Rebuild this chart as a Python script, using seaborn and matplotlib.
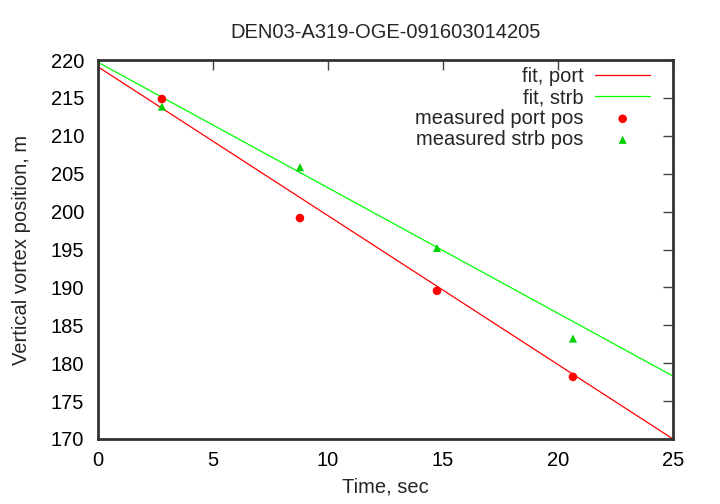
import matplotlib
matplotlib.use("Agg")
import matplotlib.pyplot as plt
import seaborn as sns
import pandas as pd

# Data
fit_time = [0.0, 25.0]
fit_port = [219.1, 170.0]
fit_strb = [219.7, 178.3]

meas_time = [2.78, 8.78, 14.74, 20.65]
meas_port = [214.85, 199.15, 189.55, 178.2]
meas_strb = [213.85, 205.85, 195.2, 183.25]

title = "DEN03-A319-OGE-091603014205"
xlabel = "Time, sec"
ylabel = "Vertical vortex position, m"
xticks = [0, 5, 10, 15, 20, 25]
yticks = [170, 175, 180, 185, 190, 195, 200, 205, 210, 215, 220]

sns.set_style("white")
plt.rcParams["font.family"] = ["Liberation Sans", "DejaVu Sans"]
FS = 14.5

fig = plt.figure(figsize=(7.2, 5.04), dpi=100)
ax = fig.add_axes([98 / 720, 1 - 439 / 504, (673 - 98) / 720, (439 - 60) / 504])

fit_df = pd.DataFrame({"t": fit_time, "port": fit_port, "strb": fit_strb})
meas_df = pd.DataFrame({"t": meas_time, "port": meas_port, "strb": meas_strb})

sns.lineplot(data=fit_df, x="t", y="port", ax=ax, color="#ff0000", lw=0.9, label="fit, port")
sns.lineplot(data=fit_df, x="t", y="strb", ax=ax, color="#00ff00", lw=0.9, label="fit, strb")
sns.scatterplot(data=meas_df, x="t", y="port", ax=ax, color="#ff0000", marker="o", s=38,
                edgecolor="none", label="measured port pos", zorder=3)
sns.scatterplot(data=meas_df, x="t", y="strb", ax=ax, color="#00d000", marker="^", s=34,
                edgecolor="none", label="measured strb pos", zorder=3)

ax.set_xlim(0, 25)
ax.set_ylim(170, 220)
ax.set_xticks(xticks)
ax.set_yticks(yticks)
ax.tick_params(direction="in", length=7, width=1, colors="#444444", labelcolor="black",
               labelsize=FS, top=True, right=True)
ax.tick_params(axis="x", pad=9)
ax.tick_params(axis="y", pad=10)
for s in ax.spines.values():
    s.set_color("#333333")
    s.set_linewidth(2.0)
    s.set_visible(True)

ax.set_title(title, fontsize=FS, pad=16)
ax.set_xlabel(xlabel, fontsize=FS, labelpad=5)
ax.set_ylabel(ylabel, fontsize=FS, labelpad=14)

leg = ax.legend(loc="upper right", frameon=False, markerfirst=False, fontsize=FS,
                handlelength=2.7, handletextpad=0.6, labelspacing=0.1,
                borderaxespad=0.0, borderpad=0.35, bbox_to_anchor=(0.972, 1.0))

fig.savefig("out.png", dpi=100)
